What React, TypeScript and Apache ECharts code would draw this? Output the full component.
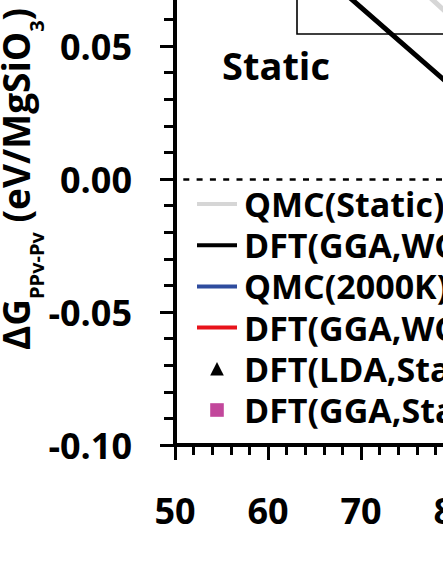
import React, { useEffect, useRef } from "react";
import * as echarts from "echarts";

// Pressure (GPa) vs Gibbs free energy difference (eV/MgSiO3)
const seriesNames = [
  "QMC(Static)",
  "DFT(GGA,WC,Static)",
  "QMC(2000K)",
  "DFT(GGA,WC,2000K)",
  "DFT(LDA,Static)",
  "DFT(GGA,Static)",
];
const qmcStatic: number[][] = [[70, 0.092], [85, 0.044], [100, -0.004], [120, -0.068]];
const dftWcStatic: number[][] = [[60, 0.095], [80, 0.034], [100, -0.026], [120, -0.086]];
const qmc2000K: number[][] = [[80, 0.13], [100, 0.065], [120, 0.0], [140, -0.065]];
const dftWc2000K: number[][] = [[80, 0.095], [100, 0.033], [110, 0.002], [130, -0.06]];
const dftLdaStatic: number[][] = [[80, 0.055], [100, -0.01], [120, -0.07]];
const dftGgaStatic: number[][] = [[80, 0.04], [100, -0.02], [120, -0.08]];
const zeroLine = [0];
const annotation = "Static";

const FONT = "'Open Sans', sans-serif";

export default function App() {
  const ref = useRef<HTMLDivElement>(null);
  useEffect(() => {
    if (!ref.current) return;
    const chart = echarts.init(ref.current, null, { renderer: "svg" });
    const bold = { fontFamily: FONT, fontWeight: "bold" as const, color: "#000" };
    const hideSym = { opacity: 0 };
    chart.setOption({
      animation: false,
      grid: { left: 175, top: 13, width: 930, height: 532, outerBoundsMode: "none", containLabel: false },
      xAxis: {
        type: "value",
        min: 50,
        max: 150,
        interval: 10,
        axisLine: { show: true, onZero: false, lineStyle: { color: "#000", width: 4 } },
        axisTick: { show: true, length: 15, lineStyle: { color: "#000", width: 3 } },
        minorTick: { show: true, splitNumber: 5, length: 10, lineStyle: { color: "#000", width: 3 } },
        splitLine: { show: false },
        axisLabel: { ...bold, fontSize: 36, margin: 47 },
      },
      yAxis: {
        type: "value",
        min: -0.1,
        max: 0.1,
        interval: 0.05,
        axisLine: { show: true, onZero: false, lineStyle: { color: "#000", width: 4 } },
        axisTick: { show: true, length: 15, lineStyle: { color: "#000", width: 3 } },
        minorTick: { show: true, splitNumber: 5, length: 11, lineStyle: { color: "#000", width: 3 } },
        splitLine: { show: false },
        axisLabel: {
          ...bold,
          fontSize: 36,
          margin: 43,
          formatter: (v: number) => (Math.abs(v) < 1e-9 ? "0.00" : v.toFixed(2)),
        },
        name: "{a|ΔG}{s|PPv-Pv}{a| (eV/MgSiO}{s|3}{a|)}",
        nameLocation: "middle",
        nameRotate: 90,
        nameGap: 142,
        nameMoveOverlap: false,
        nameTextStyle: {
          ...bold,
          rich: {
            a: { ...bold, fontSize: 37, lineHeight: 36, verticalAlign: "top" },
            s: { ...bold, fontSize: 20, lineHeight: 20, padding: [29, 0, 0, 0], verticalAlign: "top" },
          },
        },
      },
      legend: {
        orient: "vertical",
        left: 195,
        top: 285,
        padding: 0,
        itemGap: 3.2,
        itemWidth: 40,
        itemHeight: 17,
        textStyle: { ...bold, fontSize: 34, lineHeight: 34, padding: [4, 0, 0, 2] },
        data: [
          { name: seriesNames[0], itemStyle: hideSym, lineStyle: { width: 4 } },
          { name: seriesNames[1], itemStyle: hideSym, lineStyle: { width: 4 } },
          { name: seriesNames[2], itemStyle: hideSym, lineStyle: { width: 4 } },
          { name: seriesNames[3], itemStyle: hideSym, lineStyle: { width: 4 } },
          { name: seriesNames[4], lineStyle: { opacity: 0, width: 0 } },
          { name: seriesNames[5], lineStyle: { opacity: 0, width: 0 } },
        ],
      },
      graphic: [
        {
          type: "rect",
          shape: { x: 297, y: 0, width: 900, height: 134 },
          style: { fill: "none", stroke: "#000", lineWidth: 1.6 },
          z: 1,
        },
        {
          type: "text",
          x: 222,
          y: 165,
          style: {
            text: annotation,
            fontFamily: FONT,
            fontWeight: "bold",
            fontSize: 38,
            fill: "#000",
            verticalAlign: "middle",
          },
        },
      ],
      series: [
        {
          name: seriesNames[0],
          type: "line",
          data: qmcStatic,
          symbol: "none",
          color: "#d6d6d6",
          lineStyle: { color: "#d6d6d6", width: 5 },
        },
        {
          name: seriesNames[1],
          type: "line",
          data: dftWcStatic,
          symbol: "none",
          color: "#000",
          lineStyle: { color: "#000", width: 5 },
          markLine: {
            silent: true,
            symbol: ["none", "none"],
            label: { show: false },
            lineStyle: { color: "#000", width: 2.5, type: [6, 7.3], dashOffset: 5.3 },
            data: zeroLine.map((v) => ({ yAxis: v })),
          },
        },
        {
          name: seriesNames[2],
          type: "line",
          data: qmc2000K,
          symbol: "none",
          color: "#2e4c9e",
          lineStyle: { color: "#2e4c9e", width: 4 },
        },
        {
          name: seriesNames[3],
          type: "line",
          data: dftWc2000K,
          symbol: "none",
          color: "#e8131b",
          lineStyle: { color: "#e8131b", width: 4 },
        },
        {
          name: seriesNames[4],
          type: "line",
          data: dftLdaStatic,
          symbol: "triangle",
          symbolSize: 14,
          showSymbol: true,
          color: "#000",
          itemStyle: { color: "#000" },
          lineStyle: { width: 0, opacity: 0 },
        },
        {
          name: seriesNames[5],
          type: "line",
          data: dftGgaStatic,
          symbol: "rect",
          symbolSize: 12,
          showSymbol: true,
          color: "#c2479b",
          itemStyle: { color: "#c2479b" },
          lineStyle: { width: 0, opacity: 0 },
        },
      ],
    });
    return () => chart.dispose();
  }, []);
  return (
    <div
      style={{
        position: "fixed",
        left: 0,
        top: 0,
        width: 443,
        height: 573,
        overflow: "hidden",
        background: "#fff",
      }}
    >
      <div
        ref={ref}
        style={{ position: "absolute", left: 0, top: -100, width: 1150, height: 673 }}
      />
    </div>
  );
}
